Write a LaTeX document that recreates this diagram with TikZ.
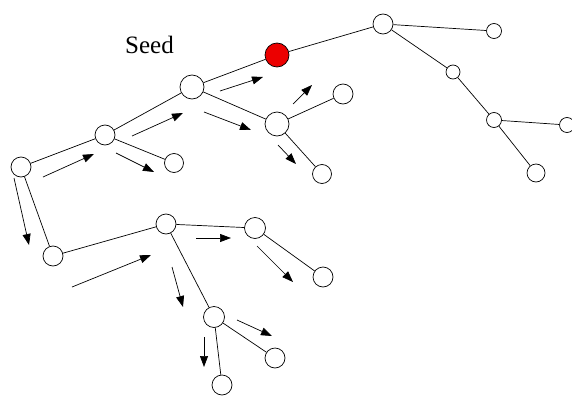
\documentclass[tikz,border=0pt]{standalone}
\usepackage{fontspec}
\setmainfont{Liberation Serif}
\usetikzlibrary{arrows.meta}
\definecolor{seedred}{RGB}{236,0,0}

\begin{document}
\begin{tikzpicture}[x=1pt,y=-1pt,line width=0.7pt,>={Triangle[length=11pt,width=8pt]},
  vtx/.style={circle,draw,fill=white,inner sep=0pt,minimum size=20pt},
  bigvtx/.style={vtx,minimum size=24pt},
  smallvtx/.style={vtx,minimum size=15pt}]
\useasboundingbox (0,0) rectangle (572,396);
% 种子节点
\node[bigvtx,fill=seedred] (seed) at (277,55) {};
\node[font=\fontsize{25}{29}\selectfont,anchor=base,inner sep=0pt] (lbl) at (149.5,53) {Seed};
% 左侧分支
\node[bigvtx] (a) at (192,87) {};
\node[vtx] (b) at (105,135) {};
\node[vtx] (c) at (21,167) {};
\node[vtx,minimum size=19pt] (bl) at (174,163) {};
\node[bigvtx] (d) at (277,124) {};
\node[vtx] (du) at (343,94) {};
\node[vtx,minimum size=19pt] (dl) at (322,174) {};
% 右侧分支
\node[vtx] (e) at (383,24) {};
\node[smallvtx] (er) at (494,31) {};
\node[smallvtx,minimum size=14pt] (f) at (453,72) {};
\node[smallvtx] (g) at (494,120) {};
\node[smallvtx] (gr) at (567,125) {};
\node[vtx,minimum size=18pt] (gb) at (536,173) {};
% 下方分支
\node[vtx] (h) at (53,256) {};
\node[vtx] (i) at (166,224) {};
\node[vtx,minimum size=21pt] (ir) at (255,228) {};
\node[vtx] (irl) at (323,277) {};
\node[vtx,minimum size=21pt] (j) at (214,317) {};
\node[vtx] (jr) at (275,358) {};
\node[vtx] (jb) at (222,385) {};
% 连线
\draw (seed) -- (a);
\draw (seed) -- (e);
\draw (a) -- (b);
\draw (a) -- (d);
\draw (b) -- (c);
\draw (b) -- (bl);
\draw (d) -- (du);
\draw (d) -- (dl);
\draw (e) -- (er);
\draw (e) -- (f);
\draw (f) -- (g);
\draw (g) -- (gr);
\draw (g) -- (gb);
\draw (c) -- (h);
\draw (h) -- (i);
\draw (i) -- (ir);
\draw (ir) -- (irl);
\draw (i) -- (j);
\draw (j) -- (jr);
\draw (j) -- (jb);
% 生长方向箭头
\draw[->] (220,91) -- (263,77);
\draw[->] (204,112) -- (251,130);
\draw[->] (132,136) -- (183,113);
\draw[->] (116,153) -- (154,172);
\draw[->] (43,177) -- (94,154);
\draw[->] (14,178) -- (29,245);
\draw[->] (293,104) -- (312,85);
\draw[->] (278,145) -- (296,164);
\draw[->] (72,287) -- (151,255);
\draw[->] (196,238) -- (231,238);
\draw[->] (257,246) -- (293,282);
\draw[->] (172,267) -- (183,307);
\draw[->] (237,320) -- (272,336);
\draw[->] (204,337) -- (204,367);
\end{tikzpicture}
\end{document}
